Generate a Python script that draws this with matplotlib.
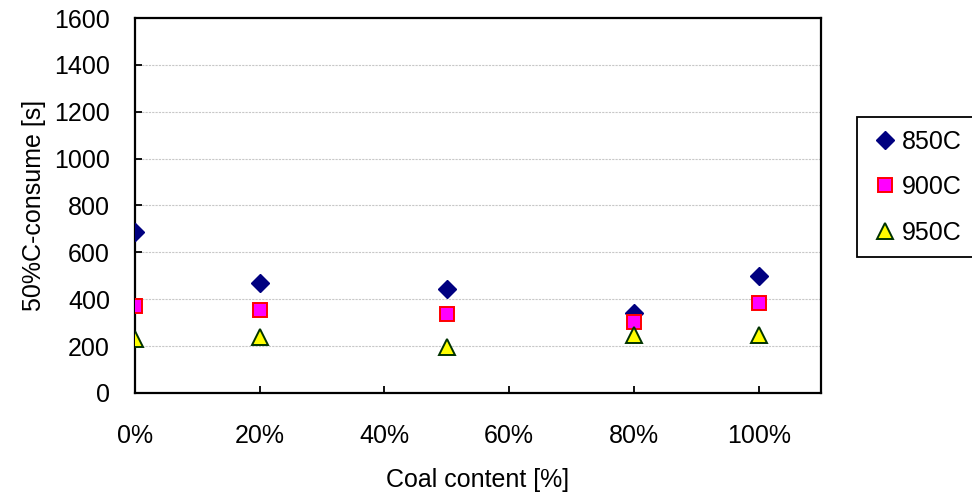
import matplotlib
matplotlib.use("Agg")
import matplotlib.pyplot as plt
from matplotlib.ticker import FuncFormatter

plt.rcParams['font.family'] = ['Liberation Sans', 'DejaVu Sans']

# coal content (fraction) and time to 50% carbon consumption [s]
coal = [0.0, 0.2, 0.5, 0.8, 1.0]
t850 = [685, 471, 444, 340, 499]
t900 = [371, 354, 337, 304, 383]
t950 = [230, 238, 195, 247, 247]

fs = 18

fig = plt.figure(figsize=(9.72, 4.95), dpi=100)
ax = fig.add_axes([0.1389, 0.2061, 0.7058, 0.7575])

ax.plot(coal, t850, linestyle='none', marker='D', ms=9.5,
        mfc='#000080', mec='#000080', label='850C', zorder=3)
ax.plot(coal, t900, linestyle='none', marker='s', ms=10.5,
        mfc='#FF00FF', mec='#FF0000', mew=1.4, label='900C', zorder=3)
ax.plot(coal, t950, linestyle='none', marker='^', ms=12,
        mfc='#FFFF00', mec='#003300', mew=1.4, label='950C', zorder=3)

ax.set_xlim(0, 1.1)
ax.set_ylim(0, 1600)
ax.set_xticks([0, 0.2, 0.4, 0.6, 0.8, 1.0])
ax.set_yticks(range(0, 1601, 200))
ax.xaxis.set_major_formatter(FuncFormatter(lambda v, p: f"{v*100:.0f}%"))

ax.yaxis.grid(True, color='#c8c8c8', linewidth=0.8, linestyle=(0, (2, 1)))
ax.set_axisbelow(True)

for s in ax.spines.values():
    s.set_linewidth(1.6)
    s.set_color('black')

ax.tick_params(axis='both', direction='in', length=5, width=1.3, labelsize=fs)
ax.tick_params(axis='x', pad=22)
ax.tick_params(axis='y', pad=18)

ax.set_xlabel('Coal content [%]', fontsize=fs, labelpad=15)
ax.set_ylabel('50%C-consume [s]', fontsize=fs, labelpad=6)

leg = fig.legend(loc='upper left', bbox_to_anchor=(0.8817, 0.7636),
                 fontsize=fs, numpoints=1, handlelength=1.2, handletextpad=0.1,
                 labelspacing=0.86, borderpad=0.5, borderaxespad=0,
                 fancybox=False, framealpha=1)
leg.get_frame().set_edgecolor('black')
leg.get_frame().set_linewidth(1.3)

fig.savefig('out.png', dpi=100)
